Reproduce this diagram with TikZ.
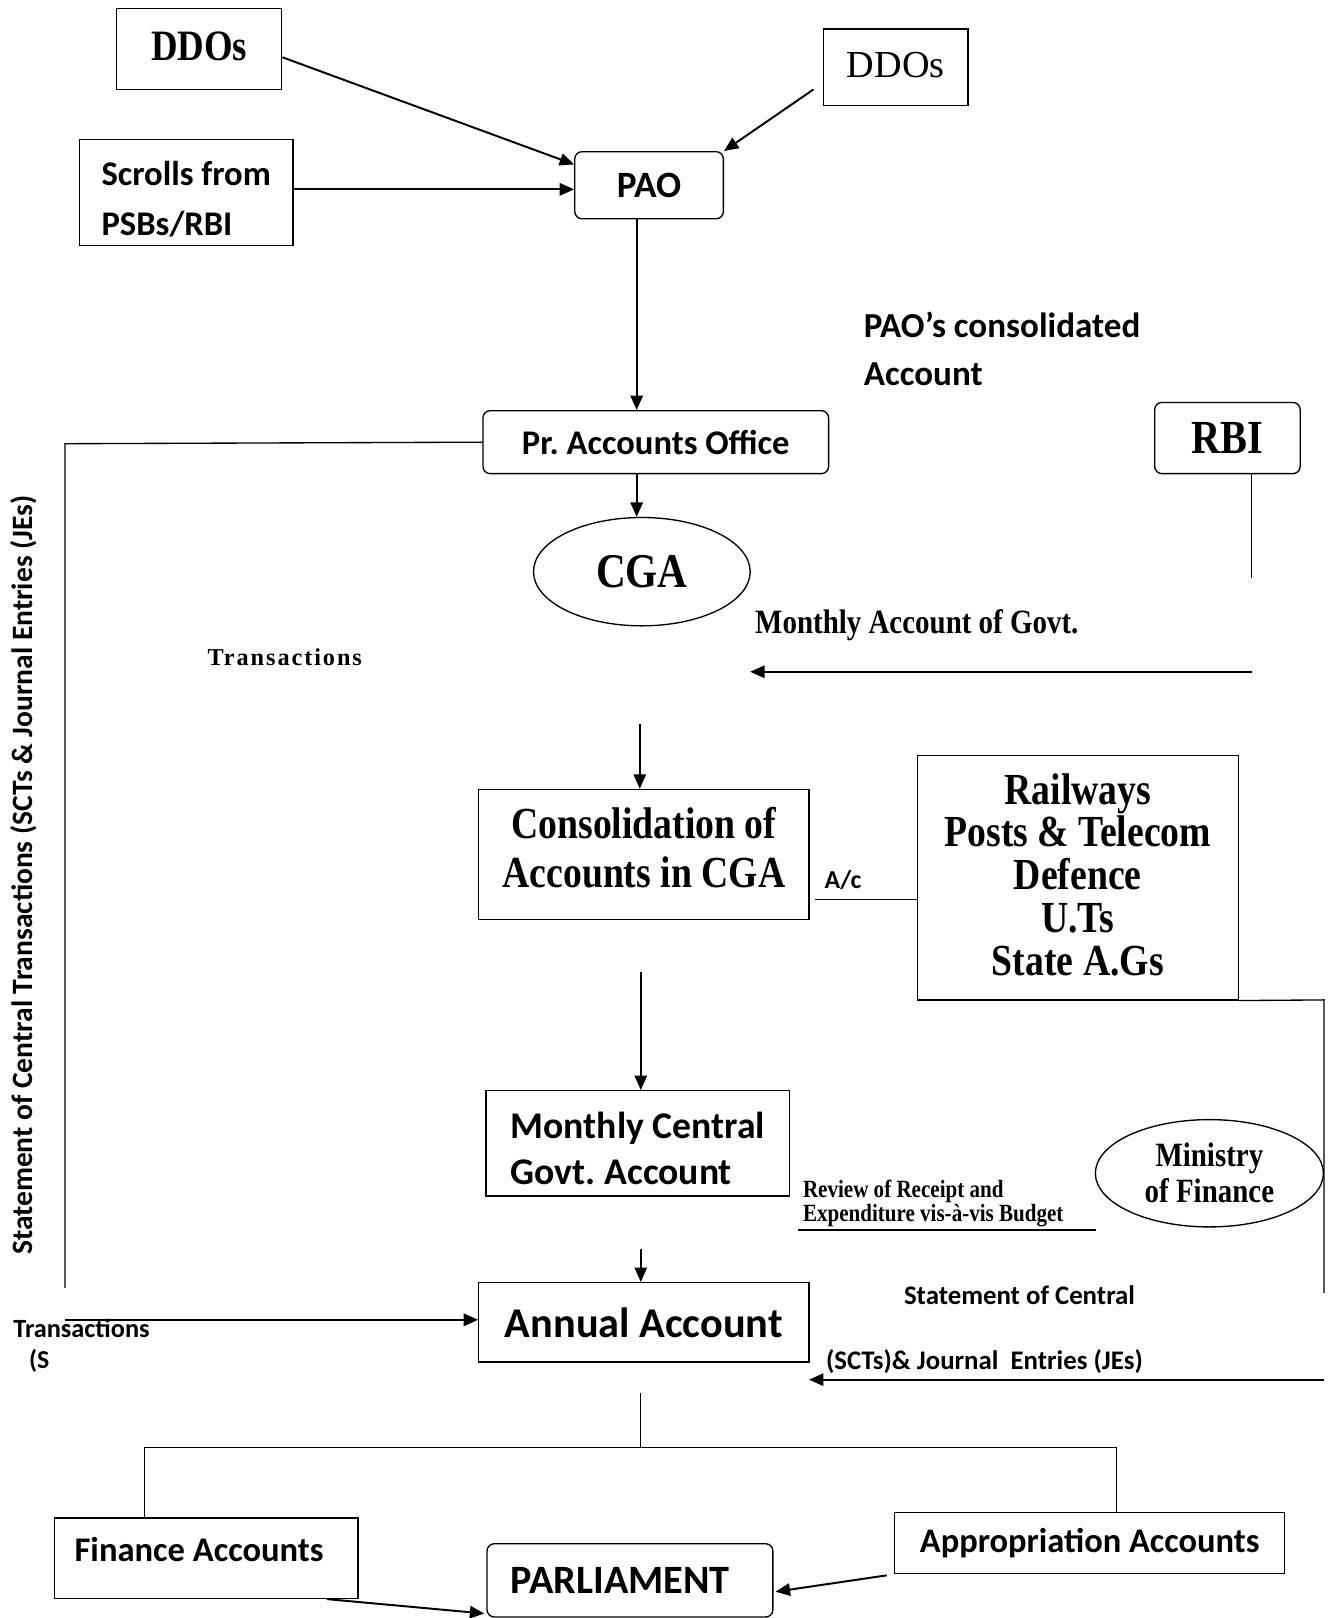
\documentclass[tikz,border=0pt]{standalone}
\usepackage{fontspec}
\setmainfont{Liberation Serif}
\newfontfamily\carl{Carlito}
\newfontfamily\cond[FakeStretch=0.85]{Liberation Serif}
\newfontfamily\wide[LetterSpace=8]{Liberation Serif}
\usetikzlibrary{arrows.meta,shapes.geometric,calc}
\newcommand\fsz[2]{\fontsize{#1}{#2}\selectfont}
\tikzset{
  box/.style={draw, line width=1.3pt, inner sep=0pt},
  rbox/.style={box, rounded corners=7pt},
  oval/.style={draw, ellipse, line width=1.3pt, inner sep=0pt},
  arr/.style={line width=1.9pt, -{Triangle[length=14pt,width=12pt]}},
  ln/.style={line width=1.3pt},
  every node/.append style={execute at begin node=\frenchspacing},
}
\begin{document}
\begin{tikzpicture}[x=1pt,y=-1pt]
\useasboundingbox (0,0) rectangle (1291,1568);

% boxes
\node[box, minimum width=160, minimum height=79] (ddoA) at (193,47.5)
  {\raisebox{5pt}{\cond\bfseries\fsz{42}{48}DDOs}};
\node[box, minimum width=140, minimum height=74] (ddoB) at (868,65)
  {\raisebox{4pt}{\fsz{37}{44}DDOs}};
\node[box, minimum width=207, minimum height=103, align=left,
      font=\carl\bfseries\fsz{33.5}{48}] (scroll) at (180.5,186.5)
  {\mbox{}\\[-12pt]Scrolls from\\PSBs/RBI};
\node[rbox, minimum width=144, minimum height=65, font=\carl\bfseries\fsz{36}{40}] (pao) at (629,179.5)
  {PAO};
\node[rbox, minimum width=335, minimum height=61, font=\carl\bfseries\fsz{33.5}{38}] (pracc) at (635.5,428.5)
  {Pr. Accounts Office};
\node[rbox, minimum width=141, minimum height=69, font=\cond\bfseries\fsz{46}{52}] (rbi) at (1189.5,424.5)
  {RBI};
\node[oval, minimum width=210, minimum height=105, font=\cond\bfseries\fsz{47}{52}] (cga) at (622,554)
  {CGA};
\node[box, minimum width=320, minimum height=126, align=center,
      font=\cond\bfseries\fsz{43}{48}] (cons) at (624,828)
  {Consolidation of\\Accounts in CGA\\[-34pt]\mbox{}};
\node[box, minimum width=311, minimum height=237, align=center,
      font=\cond\bfseries\fsz{43}{41.5}] (rail) at (1044.5,850.5)
  {Railways\\Posts \& Telecom\\Defence\\U.Ts\\State A.Gs\\[-35pt]\mbox{}};
\node[box, minimum width=294, minimum height=102, align=left,
      font=\carl\bfseries\fsz{36.5}{45}] (mcg) at (618,1108)
  {\mbox{}\\[-10pt]Monthly Central\\Govt. Account};
\node[oval, minimum width=221, minimum height=104, align=center,
      font=\cond\bfseries\fsz{33}{35}] (mof) at (1172,1137)
  {Ministry\\of Finance};
\node[box, minimum width=320, minimum height=77, font=\carl\bfseries\fsz{41}{48}] (annual) at (624,1281.5)
  {Annual Account};
\node[box, minimum width=294, minimum height=78, align=left,
      font=\carl\bfseries\fsz{33.5}{40}] (fin) at (200,1510)
  {Finance Accounts\hspace{14pt}\mbox{}\\[-22pt]\mbox{}};
\node[rbox, minimum width=277, minimum height=71, font=\carl\bfseries\fsz{39}{44}] (parl) at (610.5,1531.5)
  {PARLIAMENT\hspace{19pt}\mbox{}};
\node[box, minimum width=378, minimum height=59, font=\carl\bfseries\fsz{33.4}{40}] (appr) at (1056,1495.5)
  {Appropriation Accounts};

% free labels
\node[anchor=west, align=left, inner sep=0pt, font=\carl\bfseries\fsz{34}{46}] (paocons) at (837,338)
  {PAO’s consolidated\\Account};
\node[font=\cond\bfseries\fsz{33}{36}] (mag) at (888.5,606) {Monthly Account of Govt.};
\node[font=\wide\bfseries\fsz{23.5}{28}] (trans) at (276,637) {Transactions};
\node[font=\carl\bfseries\fsz{25}{28}] (ac) at (817,853) {A/c};
\node[anchor=west, align=left, inner sep=0pt, font=\cond\bfseries\fsz{24}{23}] (review) at (778,1166)
  {Review of Receipt and\\Expenditure vis-à-vis Budget};
\node[font=\carl\bfseries\fsz{26}{30}] (soc) at (988,1255) {Statement of Central};
\node[font=\carl\bfseries\fsz{26}{30}] (scts) at (954,1319) {(SCTs)\& Journal\ \ Entries (JEs)};
\node[font=\carl\bfseries\fsz{25.5}{28}] (trs) at (79,1287) {Transactions};
\node[font=\carl\bfseries\fsz{25}{28}] (sp) at (38,1319) {(S};
\node[rotate=90, font=\carl\bfseries\fsz{28.6}{32}] (stmt) at (23,848)
  {Statement of Central Transactions (SCTs \& Journal Entries (JEs)};

% coordinates
\coordinate (lt) at (63,430);
\coordinate (lb) at (63,1248);
\coordinate (la) at (63,1279);
\coordinate (rb1) at (1213,560);
\coordinate (ma1) at (1213,651);
\coordinate (ma2) at (727,651);
\coordinate (c1) at (620,702);
\coordinate (c2) at (621,942);
\coordinate (c3) at (621,1210);
\coordinate (rv1) at (773,1192);
\coordinate (rv2) at (1062,1192);
\coordinate (rr) at (1283,969);
\coordinate (rr2) at (1283,1253);
\coordinate (s1) at (1283,1337);
\coordinate (s2) at (784,1337);
\coordinate (a1) at (621,1350);
\coordinate (a2) at (621,1403);
\coordinate (bl) at (140,1403);
\coordinate (br) at (1082,1403);

% connectors
\draw[arr] ($(ddoA.east)+(0,8)$) -- ($(pao.north west)+(0,13)$);
\draw[arr] ($(ddoB.south west)+(-9,-16)$) -- (pao.north east);
\draw[arr] ($(scroll.east)+(0,-3)$) -- ($(scroll.east -| pao.west)+(0,-3)$);
\draw[arr] ($(pao.south)+(-12,0)$) -- ($(pracc.north)+(-18.5,0)$);
\draw[arr] ($(pracc.south)+(-18.5,0)$) -- ($(cga.north)+(-5,0)$);
\draw[ln] (pracc.west) -- (lt) -- (lb);
\draw[arr] (la) -- (la -| annual.west);
\draw[ln] (rbi.south -| rb1) -- (rb1);
\draw[arr] (ma1) -- (ma2);
\draw[arr] (c1) -- (c1 |- cons.north);
\draw[ln] ($(cons.east)+(5,44)$) -- ($(cons.east -| rail.west)+(0,44)$);
\draw[ln] (rail.south east) -- (rr) -- (rr2);
\draw[arr] (c2) -- (c2 |- mcg.north);
\draw[ln] (rv1) -- (rv2);
\draw[arr] (c3) -- (c3 |- annual.north);
\draw[arr] (s1) -- (s2);
\draw[ln] (a1) -- (a2);
\draw[ln] (bl) -- (br);
\draw[ln] (bl) -- (bl |- fin.north);
\draw[ln] (br) -- (br |- appr.north);
\draw[arr] ($(fin.south east)+(-31,0)$) -- ($(parl.south west)+(-2,-4)$);
\draw[arr] ($(appr.south west)+(-7,1)$) -- ($(parl.east)+(2,11)$);
\end{tikzpicture}
\end{document}
